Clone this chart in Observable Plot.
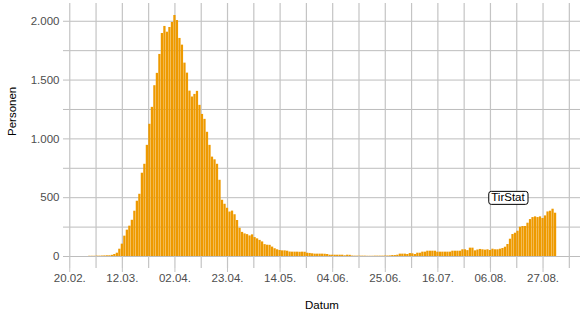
<!DOCTYPE html>
<html><head><meta charset="utf-8">
<script src="https://cdn.jsdelivr.net/npm/d3@7"></script>
<script src="https://cdn.jsdelivr.net/npm/@observablehq/plot@0.6"></script>
<style>
html,body{margin:0;padding:0;background:#fff;}
#chart svg{display:block;}
</style></head><body><div id="chart"></div>
<script>
// Daily values, starting at firstDate (one value per day)
const firstDate = "2020-02-28";
const values = [
  2, 2,
  2, 3, 3, 4, 5, 6, 6, 10, 17, 28, 62, 105, 173, 224, 258, 308, 385, 470, 529, 708, 784, 945, 1124, 1268, 1452, 1557, 1718, 1896, 1956, 1907, 1947,
  1990, 2049, 2006, 1854, 1797, 1644, 1559, 1406, 1356, 1378, 1404, 1285, 1208, 1166, 1056, 945, 845, 822, 784, 648, 478, 444, 410, 378, 386, 355, 306, 240, 205, 192,
  186, 175, 184, 161, 150, 137, 124, 101, 96, 95, 80, 66, 57, 51, 48, 48, 45, 38, 37, 37, 37, 36, 37, 36, 28, 26, 23, 20, 20, 20, 20,
  19, 17, 11, 11, 11, 11, 11, 11, 6, 11, 10, 4, 3, 3, 3, 3, 3, 2, 2, 2, 3, 3, 3, 3, 4, 4, 5, 8, 8, 11,
  20, 20, 20, 17, 25, 23, 17, 28, 28, 37, 37, 45, 45, 45, 45, 37, 37, 37, 37, 37, 37, 45, 45, 45, 45, 57, 57, 50, 71, 71, 48,
  55, 60, 57, 54, 57, 51, 62, 57, 57, 62, 68, 79, 102, 147, 187, 198, 215, 249, 255, 255, 283, 314, 331, 337, 331, 337, 323, 345, 379, 385, 402,
  368
];
const xTickDates = ["2020-02-20","2020-03-12","2020-04-02","2020-04-23","2020-05-14","2020-06-04","2020-06-25","2020-07-16","2020-08-06","2020-08-27"];
const yTicks = [0, 500, 1000, 1500, 2000];
const yGrid = [0, 250, 500, 750, 1000, 1250, 1500, 1750, 2000];
const xTitle = "Datum";
const yTitle = "Personen";
const noteText = "TirStat";
const noteDate = "2020-08-13";
const noteValue = 500;

const DAY = 864e5;
const t0 = new Date(firstDate + "T00:00:00Z");
const data = values.map((v, i) => ({date: new Date(+t0 + i * DAY), value: v}));
const majors = xTickDates.map(s => new Date(s + "T00:00:00Z"));
const minors = majors.map(d => new Date(+d + 10.5 * DAY));
const de = d3.formatLocale({decimal: ",", thousands: ".", grouping: [3], currency: ["", " €"]});
const fmtY = de.format(",");
const fmtX = d3.utcFormat("%d.%m.");

const chart = Plot.plot({
  width: 582,
  height: 314,
  marginLeft: 63,
  marginRight: 2,
  marginTop: 3,
  marginBottom: 46,
  style: {fontFamily: "'Liberation Sans', Arial, sans-serif", fontSize: "11.5px", color: "#4d4d4d", background: "#fff"},
  x: {type: "utc", domain: [new Date("2020-02-17T12:00:00Z"), new Date("2020-09-10T23:00:00Z")]},
  y: {domain: [-102, 2151]},
  marks: [
    Plot.gridY(yGrid, {stroke: "#bdbdbd", strokeOpacity: 1}),
    Plot.gridX(majors.concat(minors), {stroke: "#c4c4c4", strokeOpacity: 1, strokeWidth: 1.2}),
    Plot.rectY(data, {
      x1: d => new Date(+d.date - 0.45 * DAY),
      x2: d => new Date(+d.date + 0.45 * DAY),
      y: "value",
      fill: "#EE9A00"
    }),
    Plot.axisX(majors, {tickFormat: fmtX, tickSize: 4, tickPadding: 1, stroke: "#c4c4c4", label: null, fill: "#4d4d4d"}),
    Plot.axisY(yTicks, {tickFormat: fmtY, tickSize: 0, tickPadding: 4, label: null, fill: "#4d4d4d"}),
    Plot.text([xTitle], {frameAnchor: "bottom", dy: 40, text: d => d, fill: "#000", fontSize: 11.5}),
    Plot.text([yTitle], {frameAnchor: "left", dx: -51, rotate: -90, text: d => d, fill: "#000", fontSize: 11.5}),
    Plot.text([noteText], {x: () => new Date(noteDate + "T00:00:00Z"), y: () => noteValue, text: d => d, fill: "#000", fontSize: 11.5})
  ]
});
document.getElementById("chart").appendChild(chart);

// draw the rounded label box behind the annotation text
for (const t of chart.querySelectorAll("text")) {
  if (t.textContent === noteText) {
    const b = t.getBBox();
    const r = document.createElementNS("http://www.w3.org/2000/svg", "rect");
    r.setAttribute("x", b.x - 2.5);
    r.setAttribute("y", b.y);
    r.setAttribute("width", b.width + 5);
    r.setAttribute("height", b.height + 1);
    r.setAttribute("rx", 2.5);
    r.setAttribute("fill", "#fff");
    r.setAttribute("stroke", "#000");
    r.setAttribute("stroke-width", 1);
    const tr = t.getAttribute("transform");
    if (tr) r.setAttribute("transform", tr);
    t.parentNode.insertBefore(r, t);
  }
}
</script>
</body></html>
